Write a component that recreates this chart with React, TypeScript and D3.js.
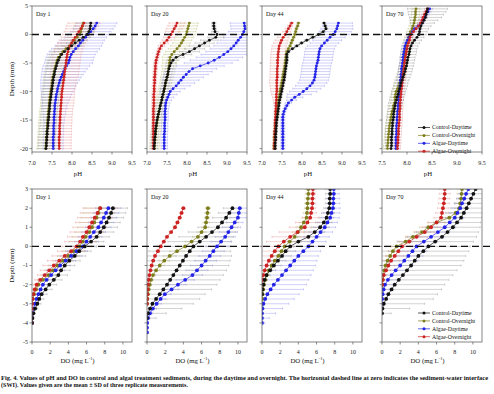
import React from "react";
import * as d3 from "d3";

const seriesNames = ["Control-Daytime", "Control-Overnight", "Algae-Daytime", "Algae-Overnight"];
const seriesColors = ["#111111", "#7d7d1e", "#2323e8", "#cc2222"];
const barColors = ["#a6a6a6", "#c6c68c", "#a0a0f4", "#eba4a4"];
const dayLabels = ["Day 1", "Day 20", "Day 44", "Day 70"];

const phTicks = [7.0, 7.5, 8.0, 8.5, 9.0, 9.5];
const phTicks70 = [7.5, 8.0, 8.5, 9.0, 9.5];
const phDepthTicks = [5, 0, -5, -10, -15, -20];
const doTicks = [0, 2, 4, 6, 8, 10];
const doDepthTicks = [3, 2, 1, 0, -1, -2, -3, -4, -5];

// depth (mm) of the pH profiles
const phDepth = [2, 1.5, 1, 0.5, 0, -0.5, -1, -1.5, -2, -2.5,
  -3, -3.5, -4, -4.5, -5, -5.5, -6, -6.5, -7, -7.5,
  -8, -8.5, -9, -9.5, -10, -10.5, -11, -11.5, -12, -12.5,
  -13, -13.5, -14, -14.5, -15, -15.5, -16, -16.5, -17, -17.5,
  -18, -18.5, -19, -19.5, -20];
const phDepth70 = [4.5, 4, 3.5, 3, 2.5,
  2, 1.5, 1, 0.5, 0, -0.5, -1, -1.5, -2, -2.5,
  -3, -3.5, -4, -4.5, -5, -5.5, -6, -6.5, -7, -7.5,
  -8, -8.5, -9, -9.5, -10, -10.5, -11, -11.5, -12, -12.5,
  -13, -13.5, -14, -14.5, -15, -15.5, -16, -16.5, -17, -17.5,
  -18, -18.5, -19, -19.5, -20];

// Day 1 pH
const ph1CD = [8.47, 8.46, 8.45, 8.42, 8.37, 8.28, 8.18, 8.08, 7.99, 7.90,
  7.81, 7.74, 7.69, 7.66, 7.63, 7.61, 7.59, 7.57, 7.56, 7.54,
  7.53, 7.52, 7.51, 7.50, 7.49, 7.48, 7.47, 7.46, 7.45, 7.44,
  7.44, 7.43, 7.42, 7.42, 7.41, 7.40, 7.40, 7.39, 7.38, 7.38,
  7.37, 7.37, 7.36, 7.36, 7.35];
const ph1CDsd = [0.12, 0.12, 0.13, 0.14, 0.16, 0.18, 0.2, 0.22, 0.24, 0.25,
  0.25, 0.25, 0.24, 0.24, 0.23, 0.23, 0.22, 0.22, 0.22, 0.22,
  0.21, 0.21, 0.21, 0.21, 0.21, 0.2, 0.2, 0.2, 0.2, 0.2,
  0.2, 0.2, 0.2, 0.2, 0.2, 0.2, 0.2, 0.2, 0.2, 0.2,
  0.2, 0.2, 0.2, 0.2, 0.2];
const ph1CO = [8.28, 8.26, 8.24, 8.22, 8.20, 8.13, 8.06, 8.00, 7.93, 7.85,
  7.77, 7.71, 7.66, 7.63, 7.61, 7.59, 7.57, 7.55, 7.54, 7.52,
  7.51, 7.50, 7.49, 7.48, 7.47, 7.46, 7.45, 7.44, 7.43, 7.43,
  7.42, 7.41, 7.41, 7.40, 7.39, 7.39, 7.38, 7.38, 7.37, 7.37,
  7.36, 7.36, 7.35, 7.35, 7.34];
const ph1COsd = [0.2, 0.2, 0.2, 0.2, 0.22, 0.24, 0.26, 0.28, 0.3, 0.3,
  0.3, 0.28, 0.26, 0.25, 0.24, 0.24, 0.23, 0.23, 0.23, 0.23,
  0.22, 0.22, 0.22, 0.22, 0.22, 0.22, 0.22, 0.22, 0.22, 0.22,
  0.22, 0.22, 0.22, 0.22, 0.22, 0.22, 0.22, 0.22, 0.22, 0.22,
  0.22, 0.22, 0.22, 0.22, 0.22];
const ph1AD = [8.62, 8.58, 8.53, 8.47, 8.41, 8.34, 8.27, 8.21, 8.16, 8.09,
  8.03, 7.98, 7.95, 7.93, 7.91, 7.86, 7.82, 7.79, 7.76, 7.73,
  7.70, 7.68, 7.66, 7.64, 7.63, 7.61, 7.60, 7.59, 7.58, 7.57,
  7.57, 7.56, 7.56, 7.55, 7.55, 7.55, 7.54, 7.54, 7.54, 7.54,
  7.53, 7.53, 7.53, 7.53, 7.53];
const ph1ADsd = [0.5, 0.5, 0.5, 0.5, 0.5, 0.52, 0.54, 0.56, 0.58, 0.6,
  0.6, 0.6, 0.6, 0.6, 0.6, 0.58, 0.56, 0.54, 0.52, 0.5,
  0.48, 0.46, 0.44, 0.42, 0.4, 0.38, 0.36, 0.34, 0.32, 0.3,
  0.3, 0.28, 0.28, 0.26, 0.26, 0.25, 0.25, 0.25, 0.25, 0.25,
  0.25, 0.25, 0.25, 0.25, 0.25];
const ph1AO = [8.30, 8.26, 8.22, 8.17, 8.13, 8.08, 8.03, 7.99, 7.95, 7.92,
  7.90, 7.88, 7.87, 7.86, 7.85, 7.84, 7.83, 7.82, 7.81, 7.80,
  7.79, 7.78, 7.77, 7.76, 7.75, 7.74, 7.74, 7.73, 7.73, 7.72,
  7.72, 7.71, 7.71, 7.70, 7.70, 7.70, 7.69, 7.69, 7.69, 7.69,
  7.68, 7.68, 7.68, 7.68, 7.68];
const ph1AOsd = [0.4, 0.4, 0.38, 0.37, 0.36, 0.35, 0.35, 0.35, 0.35, 0.35,
  0.35, 0.35, 0.35, 0.35, 0.35, 0.35, 0.35, 0.35, 0.35, 0.35,
  0.32, 0.32, 0.32, 0.32, 0.32, 0.32, 0.32, 0.32, 0.32, 0.32,
  0.3, 0.3, 0.3, 0.3, 0.3, 0.3, 0.3, 0.3, 0.3, 0.3,
  0.3, 0.3, 0.3, 0.3, 0.3];

// Day 20 pH
const ph20CD = [8.67, 8.67, 8.68, 8.70, 8.75, 8.72, 8.56, 8.44, 8.31, 8.19,
  8.06, 7.90, 7.73, 7.65, 7.60, 7.57, 7.55, 7.53, 7.52, 7.50,
  7.48, 7.46, 7.45, 7.43, 7.42, 7.40, 7.38, 7.37, 7.35, 7.33,
  7.32, 7.30, 7.28, 7.27, 7.25, 7.24, 7.23, 7.22, 7.21, 7.21,
  7.20, 7.19, 7.19, 7.18, 7.18];
const ph20CDsd = [0.05, 0.05, 0.05, 0.08, 0.15, 0.2, 0.22, 0.24, 0.25, 0.25,
  0.25, 0.22, 0.2, 0.15, 0.12, 0.1, 0.1, 0.1, 0.1, 0.1,
  0.1, 0.1, 0.1, 0.1, 0.1, 0.1, 0.1, 0.1, 0.1, 0.1,
  0.08, 0.08, 0.08, 0.08, 0.08, 0.08, 0.08, 0.08, 0.08, 0.08,
  0.08, 0.08, 0.08, 0.08, 0.08];
const ph20CO = [8.06, 8.04, 8.02, 8.00, 7.98, 7.94, 7.90, 7.86, 7.81, 7.75,
  7.68, 7.62, 7.58, 7.57, 7.56, 7.55, 7.54, 7.53, 7.52, 7.50,
  7.48, 7.47, 7.45, 7.44, 7.42, 7.40, 7.38, 7.37, 7.35, 7.33,
  7.32, 7.30, 7.29, 7.27, 7.26, 7.25, 7.24, 7.23, 7.22, 7.21,
  7.20, 7.20, 7.19, 7.19, 7.18];
const ph20COsd = [0.22, 0.22, 0.22, 0.22, 0.22, 0.22, 0.22, 0.22, 0.22, 0.22,
  0.22, 0.2, 0.2, 0.18, 0.18, 0.18, 0.16, 0.16, 0.16, 0.16,
  0.15, 0.15, 0.15, 0.15, 0.15, 0.15, 0.15, 0.15, 0.15, 0.15,
  0.12, 0.12, 0.12, 0.12, 0.12, 0.12, 0.12, 0.12, 0.12, 0.12,
  0.12, 0.12, 0.12, 0.12, 0.12];
const ph20AD = [9.43, 9.44, 9.45, 9.42, 9.39, 9.34, 9.28, 9.23, 9.17, 9.10,
  9.02, 8.92, 8.81, 8.68, 8.53, 8.33, 8.14, 8.05, 7.98, 7.91,
  7.85, 7.79, 7.73, 7.65, 7.58, 7.55, 7.52, 7.49, 7.47, 7.46,
  7.46, 7.45, 7.45, 7.45, 7.45, 7.44, 7.44, 7.44, 7.44, 7.43,
  7.43, 7.43, 7.43, 7.43, 7.43];
const ph20ADsd = [0.35, 0.35, 0.35, 0.38, 0.4, 0.42, 0.45, 0.48, 0.5, 0.52,
  0.55, 0.57, 0.58, 0.6, 0.6, 0.6, 0.6, 0.58, 0.55, 0.5,
  0.45, 0.4, 0.35, 0.3, 0.25, 0.2, 0.15, 0.12, 0.1, 0.1,
  0.08, 0.08, 0.08, 0.08, 0.08, 0.08, 0.08, 0.08, 0.08, 0.08,
  0.08, 0.08, 0.08, 0.08, 0.08];
const ph20AO = [7.75, 7.72, 7.68, 7.64, 7.60, 7.55, 7.50, 7.43, 7.36, 7.32,
  7.29, 7.27, 7.25, 7.23, 7.22, 7.21, 7.21, 7.20, 7.20, 7.19,
  7.19, 7.19, 7.18, 7.18, 7.18, 7.17, 7.17, 7.17, 7.17, 7.17,
  7.16, 7.16, 7.16, 7.16, 7.16, 7.16, 7.16, 7.16, 7.16, 7.16,
  7.16, 7.16, 7.16, 7.16, 7.16];
const ph20AOsd = [0.2, 0.2, 0.2, 0.18, 0.16, 0.14, 0.12, 0.1, 0.08, 0.06,
  0.05, 0.05, 0.05, 0.05, 0.05, 0.05, 0.05, 0.05, 0.05, 0.05,
  0.05, 0.05, 0.05, 0.05, 0.05, 0.05, 0.05, 0.05, 0.05, 0.05,
  0.04, 0.04, 0.04, 0.04, 0.04, 0.04, 0.04, 0.04, 0.04, 0.04,
  0.04, 0.04, 0.04, 0.04, 0.04];

// Day 44 pH
const ph44CD = [8.55, 8.58, 8.60, 8.53, 8.41, 8.27, 8.12, 7.99, 7.87, 7.76,
  7.66, 7.62, 7.62, 7.62, 7.61, 7.60, 7.59, 7.58, 7.57, 7.56,
  7.55, 7.53, 7.52, 7.50, 7.49, 7.47, 7.46, 7.44, 7.43, 7.42,
  7.41, 7.40, 7.39, 7.38, 7.37, 7.36, 7.36, 7.35, 7.35, 7.34,
  7.34, 7.34, 7.33, 7.33, 7.33];
const ph44CDsd = [0.04, 0.04, 0.04, 0.05, 0.06, 0.06, 0.06, 0.06, 0.06, 0.06,
  0.04, 0.04, 0.04, 0.04, 0.04, 0.04, 0.04, 0.04, 0.04, 0.04,
  0.04, 0.04, 0.04, 0.04, 0.04, 0.04, 0.04, 0.04, 0.04, 0.04,
  0.04, 0.04, 0.04, 0.04, 0.04, 0.04, 0.04, 0.04, 0.04, 0.04,
  0.04, 0.04, 0.04, 0.04, 0.04];
const ph44CO = [7.91, 7.89, 7.86, 7.84, 7.82, 7.79, 7.76, 7.73, 7.70, 7.66,
  7.62, 7.61, 7.60, 7.59, 7.58, 7.57, 7.56, 7.54, 7.53, 7.52,
  7.51, 7.49, 7.48, 7.46, 7.45, 7.44, 7.42, 7.41, 7.40, 7.39,
  7.38, 7.37, 7.36, 7.36, 7.35, 7.34, 7.33, 7.33, 7.32, 7.32,
  7.31, 7.31, 7.31, 7.30, 7.30];
const ph44COsd = [0.04, 0.04, 0.04, 0.04, 0.04, 0.04, 0.04, 0.04, 0.04, 0.04,
  0.04, 0.04, 0.04, 0.04, 0.04, 0.04, 0.04, 0.04, 0.04, 0.04,
  0.04, 0.04, 0.04, 0.04, 0.04, 0.04, 0.04, 0.04, 0.04, 0.04,
  0.04, 0.04, 0.04, 0.04, 0.04, 0.04, 0.04, 0.04, 0.04, 0.04,
  0.04, 0.04, 0.04, 0.04, 0.04];
const ph44AD = [8.91, 8.89, 8.87, 8.83, 8.78, 8.70, 8.63, 8.56, 8.49, 8.45,
  8.43, 8.42, 8.41, 8.40, 8.38, 8.36, 8.35, 8.34, 8.33, 8.32,
  8.30, 8.26, 8.20, 8.12, 8.03, 7.93, 7.82, 7.74, 7.66, 7.62,
  7.58, 7.55, 7.53, 7.52, 7.52, 7.52, 7.52, 7.52, 7.52, 7.52,
  7.52, 7.52, 7.52, 7.52, 7.52];
const ph44ADsd = [0.35, 0.38, 0.4, 0.4, 0.4, 0.38, 0.36, 0.36, 0.36, 0.36,
  0.36, 0.36, 0.36, 0.36, 0.36, 0.36, 0.36, 0.36, 0.36, 0.36,
  0.36, 0.36, 0.36, 0.35, 0.34, 0.3, 0.2, 0.12, 0.08, 0.06,
  0.05, 0.05, 0.05, 0.05, 0.05, 0.05, 0.05, 0.05, 0.05, 0.05,
  0.05, 0.05, 0.05, 0.05, 0.05];
const ph44AO = [7.74, 7.70, 7.66, 7.62, 7.58, 7.53, 7.49, 7.46, 7.43, 7.42,
  7.41, 7.40, 7.40, 7.39, 7.39, 7.39, 7.38, 7.38, 7.38, 7.38,
  7.37, 7.37, 7.37, 7.37, 7.37, 7.36, 7.36, 7.36, 7.35, 7.35,
  7.35, 7.34, 7.34, 7.34, 7.33, 7.33, 7.33, 7.33, 7.32, 7.32,
  7.32, 7.32, 7.31, 7.31, 7.31];
const ph44AOsd = [0.05, 0.06, 0.08, 0.1, 0.12, 0.14, 0.16, 0.17, 0.18, 0.18,
  0.18, 0.18, 0.18, 0.18, 0.18, 0.18, 0.18, 0.18, 0.18, 0.18,
  0.18, 0.18, 0.17, 0.16, 0.15, 0.12, 0.1, 0.08, 0.06, 0.05,
  0.04, 0.04, 0.04, 0.04, 0.04, 0.04, 0.04, 0.04, 0.04, 0.04,
  0.04, 0.04, 0.04, 0.04, 0.04];

// Day 70 pH
const ph70CD = [8.41, 8.40, 8.38, 8.37, 8.34,
  8.31, 8.28, 8.26, 8.25, 8.24, 8.20, 8.15, 8.11, 8.08, 8.06,
  8.05, 8.04, 8.02, 8.01, 8.00, 7.99, 7.97, 7.96, 7.94, 7.92,
  7.90, 7.88, 7.87, 7.85, 7.83, 7.82, 7.80, 7.79, 7.77, 7.76,
  7.75, 7.74, 7.73, 7.73, 7.72, 7.71, 7.71, 7.70, 7.70, 7.70,
  7.69, 7.69, 7.69, 7.69, 7.68];
const ph70CDsd = [0.4, 0.38, 0.35, 0.32, 0.28,
  0.24, 0.2, 0.17, 0.15, 0.14, 0.14, 0.14, 0.14, 0.14, 0.14,
  0.14, 0.14, 0.14, 0.14, 0.14, 0.14, 0.14, 0.14, 0.14, 0.14,
  0.14, 0.14, 0.14, 0.14, 0.14, 0.14, 0.14, 0.14, 0.14, 0.14,
  0.13, 0.13, 0.13, 0.13, 0.13, 0.13, 0.13, 0.13, 0.13, 0.13,
  0.12, 0.12, 0.12, 0.12, 0.12];
const ph70CO = [8.18, 8.17, 8.17, 8.16, 8.15,
  8.14, 8.12, 8.10, 8.07, 8.05, 8.03, 8.01, 8.00, 7.98, 7.97,
  7.96, 7.95, 7.94, 7.94, 7.93, 7.92, 7.91, 7.90, 7.89, 7.88,
  7.87, 7.85, 7.83, 7.81, 7.78, 7.77, 7.76, 7.76, 7.75, 7.73,
  7.72, 7.70, 7.69, 7.68, 7.67, 7.66, 7.65, 7.64, 7.64, 7.63,
  7.63, 7.62, 7.62, 7.61, 7.61];
const ph70COsd = [0.08, 0.08, 0.08, 0.08, 0.08,
  0.08, 0.08, 0.08, 0.08, 0.08, 0.08, 0.08, 0.08, 0.08, 0.08,
  0.08, 0.08, 0.08, 0.08, 0.08, 0.08, 0.08, 0.08, 0.08, 0.08,
  0.08, 0.08, 0.08, 0.08, 0.08, 0.08, 0.08, 0.08, 0.08, 0.08,
  0.08, 0.08, 0.08, 0.08, 0.08, 0.08, 0.08, 0.08, 0.08, 0.08,
  0.08, 0.08, 0.08, 0.08, 0.08];
const ph70AD = [8.45, 8.42, 8.38, 8.35, 8.31,
  8.28, 8.22, 8.15, 8.11, 8.07, 8.04, 8.01, 7.98, 7.96, 7.95,
  7.94, 7.93, 7.92, 7.92, 7.91, 7.90, 7.89, 7.89, 7.88, 7.88,
  7.87, 7.87, 7.86, 7.86, 7.85, 7.84, 7.84, 7.83, 7.83, 7.82,
  7.82, 7.81, 7.81, 7.80, 7.80, 7.80, 7.79, 7.79, 7.79, 7.79,
  7.78, 7.78, 7.78, 7.78, 7.78];
const ph70ADsd = [0.06, 0.06, 0.06, 0.06, 0.06,
  0.06, 0.06, 0.06, 0.06, 0.06, 0.06, 0.06, 0.06, 0.06, 0.06,
  0.06, 0.06, 0.06, 0.06, 0.06, 0.06, 0.06, 0.06, 0.06, 0.06,
  0.06, 0.06, 0.06, 0.06, 0.06, 0.06, 0.06, 0.06, 0.06, 0.06,
  0.06, 0.06, 0.06, 0.06, 0.06, 0.06, 0.06, 0.06, 0.06, 0.06,
  0.06, 0.06, 0.06, 0.06, 0.06];
const ph70AO = [8.41, 8.38, 8.35, 8.32, 8.30,
  8.27, 8.23, 8.18, 8.13, 8.08, 8.06, 8.05, 8.03, 8.01, 8.00,
  7.99, 7.98, 7.97, 7.96, 7.95, 7.95, 7.94, 7.93, 7.92, 7.92,
  7.91, 7.90, 7.90, 7.89, 7.88, 7.88, 7.87, 7.87, 7.86, 7.86,
  7.86, 7.85, 7.85, 7.85, 7.85, 7.84, 7.84, 7.83, 7.83, 7.83,
  7.82, 7.82, 7.82, 7.81, 7.81];
const ph70AOsd = [0.06, 0.06, 0.06, 0.06, 0.06,
  0.06, 0.06, 0.06, 0.06, 0.06, 0.06, 0.06, 0.06, 0.06, 0.06,
  0.06, 0.06, 0.06, 0.06, 0.06, 0.06, 0.06, 0.06, 0.06, 0.06,
  0.06, 0.06, 0.06, 0.06, 0.06, 0.06, 0.06, 0.06, 0.06, 0.06,
  0.06, 0.06, 0.06, 0.06, 0.06, 0.06, 0.06, 0.06, 0.06, 0.06,
  0.06, 0.06, 0.06, 0.06, 0.06];

// depth (mm) of the DO profiles
const doDepth12 = [2, 1.75, 1.5, 1.25, 1, 0.75, 0.5, 0.25, 0, -0.25, -0.5, -0.75, -1, -1.25,
  -1.5, -1.75, -2, -2.25, -2.5, -2.75, -3, -3.25, -3.5, -3.75, -4, -4.25, -4.5];
const doDepth34 = [3, 2.75, 2.5, 2.25, 2, 1.75, 1.5, 1.25, 1, 0.75, 0.5, 0.25, 0, -0.25, -0.5,
  -0.75, -1, -1.25, -1.5, -1.75, -2, -2.25, -2.5, -2.75, -3, -3.25, -3.5, -3.75, -4];

// Day 1 DO
const do1CD = [8.9, 8.7, 8.47, 8.2, 7.9, 7.5, 7.1, 6.5, 5.8, 5.2, 4.7, 4.1, 3.6, 3.2, 2.9, 2.4, 1.9, 1.5, 1.06, 0.8, 0.59, 0.35, 0.15, 0.05, 0];
const do1CDsd = [1.6, 1.6, 1.6, 1.5, 1.5, 1.5, 1.4, 1.4, 1.3, 1.3, 1.2, 1.2, 1.1, 1.0, 1.0, 0.9, 0.8, 0.7, 0.6, 0.5, 0.4, 0.3, 0.2, 0.1, 0.05];
const do1CO = [7.5, 7.3, 7.1, 6.85, 6.6, 6.3, 5.9, 5.6, 5.2, 4.6, 4.0, 3.4, 2.8, 2.3, 1.8, 1.2, 0.7, 0.45, 0.22, 0.08, 0];
const do1COsd = [1.7, 1.7, 1.7, 1.6, 1.6, 1.6, 1.5, 1.5, 1.4, 1.3, 1.2, 1.1, 1.0, 0.9, 0.8, 0.6, 0.4, 0.3, 0.2, 0.1, 0.05];
const do1AD = [8.4, 8.15, 7.9, 7.6, 7.3, 6.8, 6.4, 6.0, 5.6, 4.9, 4.3, 3.7, 3.1, 2.6, 2.1, 1.6, 1.2, 0.95, 0.7, 0.5, 0.33, 0.18, 0.07, 0.02, 0];
const do1ADsd = [1.4, 1.4, 1.4, 1.4, 1.4, 1.3, 1.3, 1.3, 1.3, 1.2, 1.2, 1.1, 1.1, 1.0, 0.9, 0.8, 0.7, 0.6, 0.5, 0.4, 0.3, 0.2, 0.1, 0.05, 0.02];
const do1AO = [7.5, 7.2, 6.9, 6.6, 6.3, 6.0, 5.6, 5.3, 4.9, 4.3, 3.6, 3.0, 2.4, 1.9, 1.4, 0.9, 0.51, 0.3, 0.15, 0.05, 0, 0, 0, 0, 0];
const do1AOsd = [1.9, 1.9, 1.9, 1.8, 1.8, 1.8, 1.7, 1.7, 1.6, 1.5, 1.4, 1.3, 1.2, 1.0, 0.8, 0.6, 0.4, 0.3, 0.2, 0.1, 0.05, 0.03, 0.02, 0.02, 0.02];

// Day 20 DO
const do20CD = [9.4, 9.05, 8.7, 8.25, 7.8, 7.15, 6.5, 5.8, 5.1, 4.7, 4.3, 3.95, 3.6, 3.25, 2.9, 2.55, 2.2, 1.8, 1.4, 1.0, 0.6, 0.33, 0.11, 0];
const do20CDsd = [1.0, 1.2, 1.5, 1.8, 2.2, 2.6, 3.0, 3.5, 4.0, 4.5, 5.0, 5.2, 5.4, 5.5, 5.5, 5.5, 5.5, 5.3, 5.0, 4.8, 4.5, 3.5, 2.0, 1.0];
const do20CO = [6.7, 6.65, 6.6, 6.5, 6.4, 6.0, 5.6, 4.9, 4.2, 3.3, 2.5, 1.9, 1.4, 1.0, 0.66, 0.45, 0.3, 0.18, 0.1, 0.04, 0];
const do20COsd = [0.3, 0.3, 0.3, 0.35, 0.4, 0.5, 0.6, 0.7, 0.8, 0.8, 0.7, 0.6, 0.5, 0.4, 0.3, 0.25, 0.2, 0.15, 0.1, 0.05, 0.02];
const do20AD = [10.2, 10.1, 10.0, 9.65, 9.3, 8.95, 8.6, 8.15, 7.7, 7.3, 6.9, 6.45, 6.0, 5.5, 5.0, 4.2, 3.4, 2.7, 1.96, 1.5, 1.06, 0.65, 0.33, 0.12, 0.02, 0, 0];
const do20ADsd = [0.8, 0.8, 0.9, 0.9, 1.0, 1.0, 1.1, 1.1, 1.2, 1.2, 1.2, 1.2, 1.2, 1.2, 1.1, 1.0, 0.9, 0.8, 0.7, 0.6, 0.5, 0.4, 0.3, 0.2, 0.1, 0.05, 0.02];
const do20AO = [4.0, 3.8, 3.6, 3.35, 3.08, 2.65, 2.2, 1.85, 1.5, 1.2, 0.88, 0.68, 0.51, 0.38, 0.26, 0.18, 0.11, 0.07, 0.04, 0.02, 0];
const do20AOsd = [0.2, 0.2, 0.2, 0.2, 0.2, 0.2, 0.2, 0.2, 0.2, 0.2, 0.15, 0.15, 0.15, 0.1, 0.1, 0.1, 0.05, 0.05, 0.05, 0.02, 0.02];

// Day 44 DO
const do44CD = [7.5, 7.5, 7.45, 7.45, 7.4, 7.25, 7.1, 6.8, 6.4, 5.8, 5.1, 4.0, 3.1, 2.6, 2.2, 1.75, 1.3, 0.9, 0.51, 0.3, 0.15, 0.05, 0];
const do44CDsd = [0.5, 0.5, 0.5, 0.5, 0.6, 0.7, 0.8, 0.9, 1.0, 1.1, 1.2, 1.2, 1.2, 1.1, 1.0, 0.9, 0.8, 0.6, 0.4, 0.3, 0.2, 0.1, 0.05];
const do44CO = [5.1, 5.1, 5.05, 5.0, 5.0, 4.95, 4.9, 4.6, 4.3, 3.95, 3.6, 3.05, 2.5, 2.15, 1.8, 1.4, 1.06, 0.75, 0.51, 0.35, 0.22, 0.13, 0.07, 0.03, 0];
const do44COsd = [0.3, 0.3, 0.3, 0.3, 0.35, 0.4, 0.45, 0.5, 0.55, 0.6, 0.6, 0.6, 0.6, 0.55, 0.5, 0.45, 0.4, 0.35, 0.3, 0.25, 0.2, 0.15, 0.1, 0.05, 0.02];
const do44AD = [7.9, 7.9, 7.85, 7.85, 7.8, 7.65, 7.5, 7.2, 6.9, 6.45, 6.0, 5.55, 5.1, 4.55, 4.0, 3.55, 3.1, 2.65, 2.2, 1.75, 1.3, 0.95, 0.59, 0.35, 0.15, 0.05, 0, 0, 0];
const do44ADsd = [0.6, 0.6, 0.7, 0.7, 0.8, 0.9, 1.0, 1.1, 1.2, 1.3, 1.4, 1.5, 1.6, 1.9, 2.2, 2.5, 2.8, 3.0, 3.2, 3.4, 3.6, 3.6, 3.5, 3.2, 2.8, 2.2, 1.5, 0.8, 0.3];
const do44AO = [5.6, 5.6, 5.55, 5.55, 5.5, 5.4, 5.3, 5.0, 4.7, 3.9, 3.1, 2.4, 1.8, 1.4, 1.06, 0.75, 0.51, 0.3, 0.15, 0.06, 0];
const do44AOsd = [0.3, 0.3, 0.3, 0.3, 0.4, 0.6, 0.9, 1.3, 1.7, 2.0, 2.0, 1.9, 1.7, 1.5, 1.2, 1.0, 0.8, 0.6, 0.4, 0.2, 0.05];

// Day 70 DO
const do70CD = [10.3, 10.05, 9.8, 9.55, 9.3, 9.0, 8.7, 8.25, 7.8, 7.2, 6.6, 5.85, 5.1, 4.55, 4.0, 3.6, 3.2, 2.75, 2.3, 1.85, 1.4, 1.05, 0.7, 0.45, 0.2, 0.05, 0];
const do70CDsd = [1.0, 1.2, 1.4, 1.6, 1.8, 2.0, 2.3, 2.6, 3.0, 3.4, 3.8, 4.2, 4.6, 5.0, 5.2, 5.4, 5.5, 5.5, 5.5, 5.5, 5.5, 5.5, 5.4, 5.2, 4.5, 3.0, 1.0];
const do70CO = [8.8, 8.75, 8.7, 8.6, 8.5, 8.1, 7.4, 6.0, 5.1, 4.4, 3.4, 2.6, 1.6, 1.2, 0.9, 0.62, 0.4, 0.25, 0.15, 0.08, 0.05, 0.02, 0];
const do70COsd = [0.5, 0.5, 0.5, 0.5, 0.5, 0.6, 0.8, 1.0, 1.0, 0.9, 0.8, 0.7, 0.6, 0.5, 0.4, 0.3, 0.25, 0.2, 0.15, 0.1, 0.05, 0.02, 0.02];
const do70AD = [9.5, 9.25, 9.05, 8.8, 8.6, 8.3, 8.0, 7.45, 6.9, 6.15, 5.4, 4.6, 3.8, 3.35, 2.9, 2.45, 2.0, 1.5, 1.06, 0.65, 0.33, 0.18, 0.07, 0.02, 0];
const do70ADsd = [0.8, 0.8, 0.8, 0.8, 0.9, 0.9, 1.0, 1.1, 1.2, 1.3, 1.4, 1.5, 1.6, 1.6, 1.6, 1.5, 1.4, 1.3, 1.2, 1.0, 0.8, 0.6, 0.4, 0.2, 0.1];
const do70AO = [6.9, 6.9, 6.85, 6.8, 6.7, 6.6, 6.5, 6.0, 5.4, 4.7, 3.8, 3.0, 2.2, 1.8, 1.4, 1.0, 0.7, 0.45, 0.2, 0.08, 0];
const do70AOsd = [0.6, 0.6, 0.6, 0.6, 0.6, 0.7, 0.8, 0.9, 1.0, 1.1, 1.2, 1.2, 1.2, 1.1, 1.0, 0.9, 0.7, 0.5, 0.3, 0.15, 0.05];

const panelLefts = [32, 147, 262, 382];
const panelWidth = 100;
const drawOrder = [1, 2, 3, 0];
const fontFamily = "'Liberation Serif', 'Times New Roman', serif";

type PanelProps = {
  id: string;
  left: number;
  top: number;
  height: number;
  xDomain: [number, number];
  yDomain: [number, number];
  xTicks: number[];
  yTicks: number[];
  showYLabels: boolean;
  fmt: (v: number) => string;
  day: string;
  depth: number[];
  values: number[][];
  sds: number[][];
  r: number;
  xLabel: React.ReactNode;
  xLabelAt: number;
  tickLabelDy: number;
  axisLabelDy: number;
  legendTop?: number;
};

function Panel(p: PanelProps) {
  const bottom = p.top + p.height;
  const right = p.left + panelWidth;
  const x = d3.scaleLinear().domain(p.xDomain).range([p.left, right]);
  const y = d3.scaleLinear().domain(p.yDomain).range([bottom, p.top]);
  const line = d3
    .line<number>()
    .x((v) => x(v))
    .y((_, i) => y(p.depth[i]));

  return (
    <g>
      <defs>
        <clipPath id={`clip-${p.id}`}>
          <rect x={p.left} y={p.top} width={panelWidth} height={p.height} />
        </clipPath>
      </defs>
      <g clipPath={`url(#clip-${p.id})`}>
        {drawOrder.map((s) =>
          p.values[s].map((v, i) => {
            const sd = p.sds[s][i] ?? 0;
            if (sd <= 0) return null;
            const yy = y(p.depth[i]);
            const x1 = x(v - sd);
            const x2 = x(v + sd);
            return (
              <g key={`e${s}-${i}`} stroke={barColors[s]} strokeWidth={0.5}>
                <line x1={x1} x2={x2} y1={yy} y2={yy} />
                <line x1={x1} x2={x1} y1={yy - 1.1} y2={yy + 1.1} />
                <line x1={x2} x2={x2} y1={yy - 1.1} y2={yy + 1.1} />
              </g>
            );
          })
        )}
        {drawOrder.map((s) => (
          <path key={`l${s}`} d={line(p.values[s]) || ""} fill="none" stroke={seriesColors[s]} strokeWidth={0.7} />
        ))}
        {drawOrder.map((s) =>
          p.values[s].map((v, i) => (
            <circle key={`c${s}-${i}`} cx={x(v)} cy={y(p.depth[i])} r={p.r} fill={seriesColors[s]} />
          ))
        )}
      </g>
      <rect x={p.left} y={p.top} width={panelWidth} height={p.height} fill="none" stroke="#666" strokeWidth={0.8} />
      {p.yTicks.map((t) => (
        <g key={`y${t}`}>
          <line x1={p.left - 2.5} x2={p.left} y1={y(t)} y2={y(t)} stroke="#444" strokeWidth={0.6} />
          {p.showYLabels && (
            <text x={p.left - 4} y={y(t)} dy="0.33em" textAnchor="end" fontSize={6} fontFamily={fontFamily} fill="#222">
              {t}
            </text>
          )}
        </g>
      ))}
      {p.xTicks.map((t) => (
        <g key={`x${t}`}>
          <line x1={x(t)} x2={x(t)} y1={bottom} y2={bottom + 2.5} stroke="#444" strokeWidth={0.6} />
          <text x={x(t)} y={bottom + p.tickLabelDy} textAnchor="middle" fontSize={6} fontFamily={fontFamily} fill="#222">
            {p.fmt(t)}
          </text>
        </g>
      ))}
      <text x={x(p.xLabelAt)} y={bottom + p.axisLabelDy} textAnchor="middle" fontSize={6.8} fontFamily={fontFamily} fill="#111">
        {p.xLabel}
      </text>
      <text x={p.left + 4} y={p.top + 9.5} fontSize={6} fontFamily={fontFamily} fill="#111">
        {p.day}
      </text>
      {p.legendTop !== undefined &&
        seriesNames.map((name, s) => {
          const ly = (p.legendTop as number) + s * 7.9;
          return (
            <g key={name}>
              <line x1={418} x2={430} y1={ly} y2={ly} stroke={seriesColors[s]} strokeWidth={0.7} />
              <circle cx={424} cy={ly} r={1.5} fill={seriesColors[s]} />
              <text x={432} y={ly} dy="0.33em" fontSize={5.8} fontFamily={fontFamily} fill="#111">
                {name}
              </text>
            </g>
          );
        })}
    </g>
  );
}

const topValues = [
  [ph1CD, ph1CO, ph1AD, ph1AO],
  [ph20CD, ph20CO, ph20AD, ph20AO],
  [ph44CD, ph44CO, ph44AD, ph44AO],
  [ph70CD, ph70CO, ph70AD, ph70AO],
];
const topSds = [
  [ph1CDsd, ph1COsd, ph1ADsd, ph1AOsd],
  [ph20CDsd, ph20COsd, ph20ADsd, ph20AOsd],
  [ph44CDsd, ph44COsd, ph44ADsd, ph44AOsd],
  [ph70CDsd, ph70COsd, ph70ADsd, ph70AOsd],
];
const botValues = [
  [do1CD, do1CO, do1AD, do1AO],
  [do20CD, do20CO, do20AD, do20AO],
  [do44CD, do44CO, do44AD, do44AO],
  [do70CD, do70CO, do70AD, do70AO],
];
const botSds = [
  [do1CDsd, do1COsd, do1ADsd, do1AOsd],
  [do20CDsd, do20COsd, do20ADsd, do20AOsd],
  [do44CDsd, do44COsd, do44ADsd, do44AOsd],
  [do70CDsd, do70COsd, do70ADsd, do70AOsd],
];
const botDepths = [doDepth12, doDepth12, doDepth34, doDepth34];

export default function App() {
  const topTop = 6;
  const topH = 146;
  const botTop = 189;
  const botH = 153;
  const yTop = d3.scaleLinear().domain([-20.6, 5]).range([topTop + topH, topTop]);
  const yBot = d3.scaleLinear().domain([-5, 3]).range([botTop + botH, botTop]);
  const doLabel = (
    <>
      DO (mg L
      <tspan fontSize={4.2} dy={-2.6}>-1</tspan>
      <tspan dy={2.6}>)</tspan>
    </>
  );
  return (
    <svg width={494} height={394} style={{ position: "absolute", left: 0, top: 0, background: "#fff" }}>
      {dayLabels.map((day, k) => (
        <Panel
          key={`t${k}`}
          id={`t${k}`}
          left={panelLefts[k]}
          top={topTop}
          height={topH}
          xDomain={k === 3 ? [7.5, 9.5] : [7.0, 9.5]}
          yDomain={[-20.6, 5]}
          xTicks={k === 3 ? phTicks70 : phTicks}
          yTicks={phDepthTicks}
          showYLabels={k === 0}
          fmt={(v) => v.toFixed(1)}
          day={day}
          depth={k === 3 ? phDepth70 : phDepth}
          values={topValues[k]}
          sds={topSds[k]}
          r={1.45}
          xLabel="pH"
          xLabelAt={k === 3 ? 8.42 : 8.15}
          tickLabelDy={13}
          axisLabelDy={23.5}
          legendTop={k === 3 ? 127.5 : undefined}
        />
      ))}
      {dayLabels.map((day, k) => (
        <Panel
          key={`b${k}`}
          id={`b${k}`}
          left={panelLefts[k]}
          top={botTop}
          height={botH}
          xDomain={[0, 11]}
          yDomain={[-5, 3]}
          xTicks={doTicks}
          yTicks={doDepthTicks}
          showYLabels={k === 0}
          fmt={(v) => String(v)}
          day={day}
          depth={botDepths[k]}
          values={botValues[k]}
          sds={botSds[k]}
          r={1.9}
          xLabel={doLabel}
          xLabelAt={5}
          tickLabelDy={12}
          axisLabelDy={20.5}
          legendTop={k === 3 ? 313 : undefined}
        />
      ))}
      <line x1={32} x2={490} y1={yTop(0)} y2={yTop(0)} stroke="#111" strokeWidth={1.3} strokeDasharray="7,4" />
      <line x1={32} x2={490} y1={yBot(0)} y2={yBot(0)} stroke="#111" strokeWidth={1.3} strokeDasharray="7,4" />
      <text transform={`translate(14,${topTop + topH / 2}) rotate(-90)`} textAnchor="middle" fontSize={7} fontFamily={fontFamily} fill="#111">
        Depth (mm)
      </text>
      <text transform={`translate(14,${botTop + botH / 2}) rotate(-90)`} textAnchor="middle" fontSize={7} fontFamily={fontFamily} fill="#111">
        Depth (mm)
      </text>
      <text x={1} y={379.5} fontSize={5.4} fontWeight="bold" fontFamily={fontFamily} fill="#111" textLength={487} lengthAdjust="spacingAndGlyphs">
        Fig. 4. Values of pH and DO in control and algal treatment sediments, during the daytime and overnight. The horizontal dashed line at zero indicates the sediment-water interface
      </text>
      <text x={1} y={386.5} fontSize={5.4} fontWeight="bold" fontFamily={fontFamily} fill="#111" textLength={187} lengthAdjust="spacingAndGlyphs">
        (SWI). Values given are the mean ± SD of three replicate measurements.
      </text>
    </svg>
  );
}
